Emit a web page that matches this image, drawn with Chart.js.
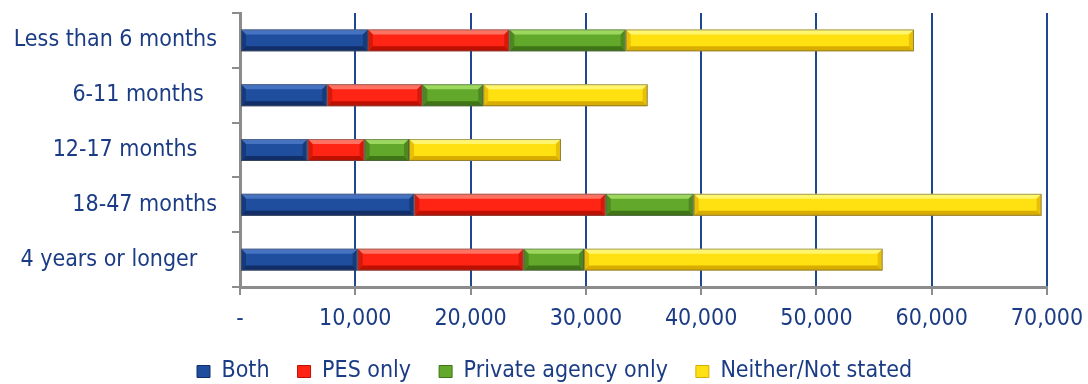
<!DOCTYPE html>
<html>
<head>
<meta charset="utf-8">
<script src="https://cdn.jsdelivr.net/npm/chart.js@4/dist/chart.umd.min.js"></script>
<style>
  html, body { margin: 0; padding: 0; background: #fff; }
  #wrap { width: 1088px; height: 384px; position: relative; }
</style>
</head>
<body>
<div id="wrap"><canvas id="durChart"></canvas></div>
<script>
// categories (trailing spaces kept as in the original labels)
const categories = ['Less than 6 months', '6-11 months  ', '12-17 months   ', '18-47 months', '4 years or longer   '];
const seriesNames = ['Both', 'PES only', 'Private agency only', 'Neither/Not stated'];
const both = [11100, 7570, 5870, 15120, 10210];
const pesOnly = [12260, 8240, 4940, 16600, 14390];
const privateOnly = [10090, 5290, 3850, 7630, 5240];
const neither = [25010, 14260, 13180, 30180, 25900];
const xTicks = [0, 10000, 20000, 30000, 40000, 50000, 60000, 70000];

const textColor = '#1B3C85';
const fills = [
  { base: '#1F4E9E', light: '#4573C2', dark: '#112E68' },
  { base: '#FF2414', light: '#FF7262', dark: '#BE1000' },
  { base: '#62A82B', light: '#9CD85E', dark: '#3F7516' },
  { base: '#FFE010', light: '#FFF66E', dark: '#D9AC00' }
];

Chart.defaults.font.family = "'DejaVu Sans Condensed', 'DejaVu Sans', sans-serif";
Chart.defaults.font.size = 23;
Chart.defaults.color = textColor;

/** bevelled look of the bars, drawn over each bar element */
const bevelPlugin = {
  id: 'bevel',
  afterDatasetsDraw(chart) {
    const ctx = chart.ctx;
    chart.data.datasets.forEach((ds, i) => {
      const meta = chart.getDatasetMeta(i);
      const c = fills[i];
      meta.data.forEach(bar => {
        const p = bar.getProps(['x', 'y', 'base', 'height'], true);
        const x0 = Math.min(p.base, p.x), x1 = Math.max(p.base, p.x);
        const y0 = p.y - p.height / 2, y1 = p.y + p.height / 2;
        const b = 5;
        ctx.save();
        // top band
        ctx.fillStyle = c.light;
        ctx.beginPath();
        ctx.moveTo(x0, y0); ctx.lineTo(x1, y0); ctx.lineTo(x1 - b, y0 + b); ctx.lineTo(x0 + b, y0 + b);
        ctx.closePath(); ctx.fill();
        // bottom band
        ctx.fillStyle = c.dark;
        ctx.beginPath();
        ctx.moveTo(x0, y1); ctx.lineTo(x1, y1); ctx.lineTo(x1 - b, y1 - b); ctx.lineTo(x0 + b, y1 - b);
        ctx.closePath(); ctx.fill();
        // sides
        ctx.globalAlpha = 0.6;
        ctx.beginPath();
        ctx.moveTo(x1, y0); ctx.lineTo(x1, y1); ctx.lineTo(x1 - b, y1 - b); ctx.lineTo(x1 - b, y0 + b);
        ctx.closePath(); ctx.fill();
        ctx.beginPath();
        ctx.moveTo(x0, y0); ctx.lineTo(x0, y1); ctx.lineTo(x0 + b, y1 - b); ctx.lineTo(x0 + b, y0 + b);
        ctx.closePath(); ctx.fill();
        ctx.globalAlpha = 1;
        ctx.strokeStyle = 'rgba(90,90,90,0.55)';
        ctx.lineWidth = 1;
        ctx.strokeRect(x0 + 0.5, y0 + 0.5, x1 - x0 - 1, y1 - y0 - 1);
        ctx.restore();
      });
    });
  }
};

/** legend: fixed height and moved to where it sits in the original */
const legendPlace = {
  id: 'legendPlace',
  afterInit(chart) {
    const lg = chart.legend;
    if (!lg) return;
    const origFit = lg.fit;
    lg.fit = function () {
      origFit.call(this);
      this.height = 52;
    };
  },
  afterLayout(chart) {
    const lg = chart.legend;
    if (!lg || !lg.lineWidths) return;
    const pad = lg.options.labels.padding;
    const startX = (lg.left + pad + lg.right - lg.lineWidths[0]) / 2;
    const dx = 197 - startX;
    lg.left += dx;
    lg.right += dx;
  }
};

const datasets = [both, pesOnly, privateOnly, neither].map((vals, i) => ({
  label: seriesNames[i],
  data: vals,
  backgroundColor: fills[i].base,
  borderColor: fills[i].dark,
  borderWidth: 1,
  categoryPercentage: 0.8,
  barPercentage: 0.5
}));

new Chart('durChart', {
  type: 'bar',
  data: { labels: categories, datasets: datasets },
  plugins: [bevelPlugin, legendPlace],
  options: {
    indexAxis: 'y',
    responsive: true,
    maintainAspectRatio: false,
    animation: false,
    layout: { padding: { top: 13, left: 0, right: 41, bottom: 0 } },
    plugins: {
      tooltip: { enabled: false },
      legend: {
        position: 'bottom',
        labels: {
          boxWidth: 13,
          boxHeight: 12,
          padding: 28,
          color: textColor,
          font: { size: 23 }
        }
      }
    },
    scales: {
      x: {
        stacked: true,
        min: 0,
        max: 70000,
        afterBuildTicks: s => { s.ticks = xTicks.map(v => ({ value: v })); },
        afterFit: s => {
          s.height = 45;
          s.paddingLeft = 0;
          s.paddingRight = 0;
        },
        ticks: {
          padding: 10,
          color: textColor,
          maxRotation: 0,
          callback: v => v === 0 ? '-' : v.toLocaleString('en-US')
        },
        grid: { color: '#1F4690', lineWidth: 2, tickColor: '#8C8C8C', tickLength: 8 },
        border: { color: '#8C8C8C', width: 3 }
      },
      y: {
        stacked: true,
        afterFit: s => {
          s.width = 240;
          s.paddingTop = 0;
          s.paddingBottom = 0;
        },
        ticks: { padding: 15, color: textColor },
        grid: { drawOnChartArea: false, color: '#8C8C8C', lineWidth: 2, tickLength: 8 },
        border: { color: '#8C8C8C', width: 3 }
      }
    }
  }
});
</script>
</body>
</html>
